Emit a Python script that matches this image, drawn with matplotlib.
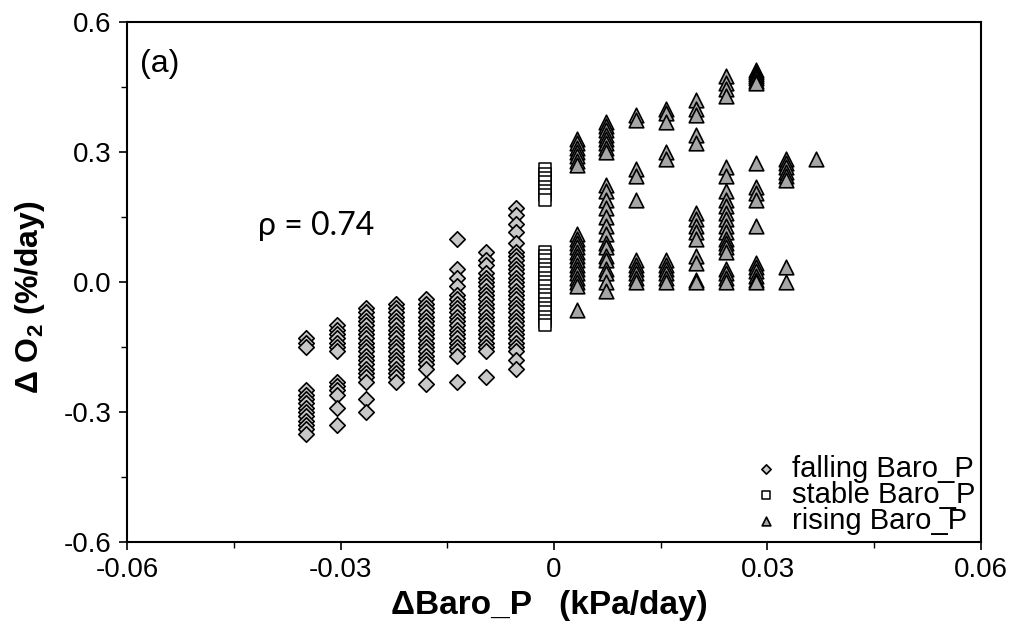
import matplotlib
matplotlib.use("Agg")
import matplotlib.pyplot as plt
from matplotlib.ticker import MultipleLocator, FixedLocator

plt.rcParams['font.family'] = ['Liberation Sans', 'DejaVu Sans']
plt.rcParams['mathtext.fontset'] = 'custom'
plt.rcParams['mathtext.rm'] = 'Liberation Sans'
plt.rcParams['mathtext.bf'] = 'Liberation Sans:bold'

# ---- data ----
falling_x = [-0.0349, -0.0305, -0.0264, -0.0222, -0.0180, -0.0137, -0.0096, -0.0053]
falling_y = [
    [-0.13, -0.14, -0.15, -0.25, -0.26, -0.27, -0.28, -0.29, -0.30, -0.31, -0.32, -0.33, -0.34, -0.35],
    [-0.10, -0.11, -0.12, -0.13, -0.14, -0.15, -0.16, -0.23, -0.24, -0.25, -0.26, -0.29, -0.33],
    [-0.06, -0.07, -0.08, -0.09, -0.10, -0.11, -0.12, -0.13, -0.14, -0.15, -0.16, -0.17, -0.18,
     -0.19, -0.20, -0.21, -0.22, -0.23, -0.27, -0.30],
    [-0.05, -0.06, -0.07, -0.08, -0.09, -0.10, -0.11, -0.12, -0.13, -0.14, -0.15, -0.16, -0.17,
     -0.18, -0.19, -0.20, -0.21, -0.22, -0.23],
    [-0.04, -0.05, -0.06, -0.07, -0.08, -0.09, -0.10, -0.11, -0.12, -0.13, -0.14, -0.15, -0.16,
     -0.17, -0.18, -0.19, -0.20, -0.235],
    [0.10, 0.03, 0.01, -0.01, -0.03, -0.04, -0.05, -0.06, -0.07, -0.08, -0.09, -0.10, -0.11,
     -0.12, -0.13, -0.14, -0.15, -0.16, -0.17, -0.23],
    [0.07, 0.05, 0.04, 0.02, 0.01, 0.0, -0.01, -0.02, -0.03, -0.04, -0.05, -0.06, -0.07, -0.08,
     -0.09, -0.10, -0.11, -0.12, -0.13, -0.14, -0.15, -0.16, -0.22],
    [0.17, 0.155, 0.135, 0.115, 0.09, 0.07, 0.06, 0.05, 0.04, 0.03, 0.02, 0.01, 0.0, -0.01, -0.02,
     -0.03, -0.04, -0.05, -0.06, -0.07, -0.08, -0.09, -0.10, -0.11, -0.12, -0.13, -0.14, -0.15,
     -0.16, -0.18, -0.20],
]

stable_x = [-0.0012]
stable_y = [
    [0.26, 0.25, 0.24, 0.23, 0.22, 0.21, 0.20, 0.19,
     0.07, 0.06, 0.05, 0.04, 0.03, 0.02, 0.01, 0.0, -0.01, -0.02, -0.03, -0.04, -0.05, -0.06,
     -0.07, -0.08, -0.09, -0.10],
]

rising_x = [0.0032, 0.0073, 0.0115, 0.0157, 0.0199, 0.0242, 0.0284, 0.0326, 0.0368]
rising_y = [
    [0.33, 0.32, 0.31, 0.30, 0.29, 0.28, 0.27, 0.11, 0.10, 0.09, 0.08, 0.07, 0.06, 0.05, 0.04,
     0.03, 0.02, 0.01, 0.0, -0.01, -0.065],
    [0.37, 0.36, 0.35, 0.34, 0.33, 0.32, 0.31, 0.30, 0.225, 0.21, 0.19, 0.17, 0.15, 0.13, 0.11,
     0.09, 0.08, 0.06, 0.05, 0.03, 0.02, 0.0, -0.02],
    [0.385, 0.375, 0.26, 0.245, 0.19, 0.05, 0.04, 0.03, 0.02, 0.01, 0.0],
    [0.40, 0.39, 0.37, 0.30, 0.285, 0.05, 0.04, 0.03, 0.02, 0.01, 0.0],
    [0.42, 0.40, 0.385, 0.34, 0.32, 0.16, 0.145, 0.13, 0.115, 0.10, 0.06, 0.045, 0.005, 0.0],
    [0.475, 0.46, 0.445, 0.43, 0.265, 0.245, 0.21, 0.19, 0.175, 0.16, 0.145, 0.13, 0.115, 0.10,
     0.09, 0.08, 0.07, 0.03, 0.02, 0.01, 0.0],
    [0.49, 0.485, 0.48, 0.475, 0.47, 0.465, 0.46, 0.275, 0.22, 0.205, 0.19, 0.13, 0.045, 0.035,
     0.025, 0.015, 0.005, 0.0],
    [0.285, 0.275, 0.265, 0.255, 0.245, 0.235, 0.035, 0.0],
    [0.285],
]

labels = ['falling Baro_P', 'stable Baro_P', 'rising Baro_P']
x_ticks = [-0.06, -0.03, 0, 0.03, 0.06]
x_tick_labels = ['-0.06', '-0.03', '0', '0.03', '0.06']
y_ticks = [-0.6, -0.3, 0.0, 0.3, 0.6]
y_tick_labels = ['-0.6', '-0.3', '0.0', '0.3', '0.6']


def flatten(xs, ys):
    fx, fy = [], []
    for xv, col in zip(xs, ys):
        for yv in col:
            fx.append(xv)
            fy.append(yv)
    return fx, fy


fig = plt.figure(figsize=(10.21, 6.33), dpi=100)
ax = fig.add_axes([0.1244, 0.1438, 0.8364, 0.8214])

fx, fy = flatten(falling_x, falling_y)
ax.scatter(fx, fy, marker='D', s=62, facecolor='#c8c8c8', edgecolor='black',
           linewidths=1.2, label=labels[0], zorder=3)
sx, sy = flatten(stable_x, stable_y)
ax.scatter(sx, sy, marker='s', s=75, facecolor='white', edgecolor='black',
           linewidths=1.1, label=labels[1], zorder=3)
rx, ry = flatten(rising_x, rising_y)
ax.scatter(rx, ry, marker='^', s=110, facecolor='#a6a6a6', edgecolor='black',
           linewidths=1.2, label=labels[2], zorder=3)

ax.set_xlim(-0.06, 0.06)
ax.set_ylim(-0.6, 0.6)
ax.xaxis.set_major_locator(FixedLocator(x_ticks))
ax.set_xticklabels(x_tick_labels)
ax.yaxis.set_major_locator(FixedLocator(y_ticks))
ax.set_yticklabels(y_tick_labels)
ax.xaxis.set_minor_locator(MultipleLocator(0.015))
ax.yaxis.set_minor_locator(MultipleLocator(0.15))
ax.tick_params(which='major', direction='out', length=6, width=1.2, labelsize=20,
               top=False, right=False, pad=5)
ax.tick_params(which='minor', direction='out', length=4, width=1.0, top=False, right=False)
for sp in ax.spines.values():
    sp.set_linewidth(1.5)

ax.set_xlabel('ΔBaro_P   (kPa/day)', fontsize=24, fontweight='bold')
ax.xaxis.label.set_va('center')
ax.xaxis.set_label_coords(0.495, -0.122)
ax.set_ylabel(r'Δ O$_\mathbf{2}$ (%/day)', fontsize=23, fontweight='bold')
ax.yaxis.set_label_coords(-0.094, 0.47)

ax.text(0.015, 0.92, '(a)', transform=ax.transAxes, fontsize=23, va='center', ha='left')
ax.text(-0.0334, 0.13, 'ρ = 0.74', fontsize=23, va='center', ha='center',
        family=['Lato', 'DejaVu Sans'])

leg = ax.legend(loc='lower right', bbox_to_anchor=(1.0, 0.003), frameon=False, fontsize=21,
                markerscale=0.6, handletextpad=0.3, labelspacing=-0.07, borderaxespad=0.1,
                borderpad=0.1, handlelength=1.2)

fig.savefig('out.png', dpi=100)
